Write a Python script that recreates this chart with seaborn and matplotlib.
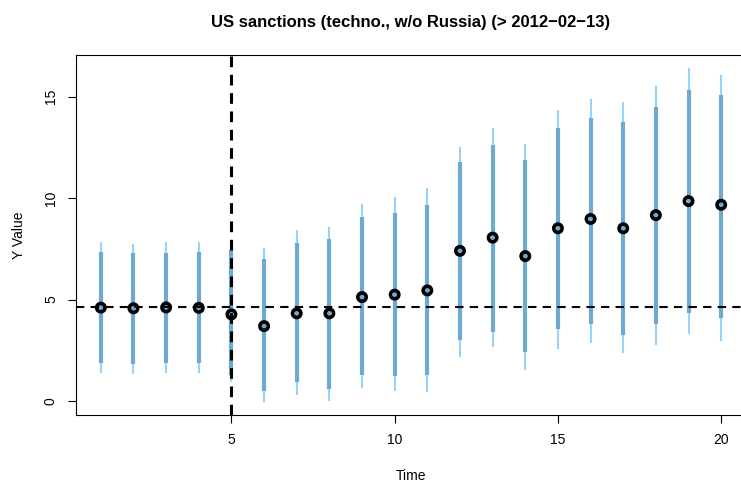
import numpy as np
import pandas as pd
import matplotlib
matplotlib.use("Agg")
import matplotlib.pyplot as plt
import seaborn as sns

# Event-study estimates with 80% (inner) and 95% (outer) intervals
time = list(range(1, 21))
estimate = [4.60, 4.57, 4.61, 4.59, 4.27, 3.69, 4.32, 4.32, 5.12, 5.24,
            5.45, 7.40, 8.05, 7.14, 8.51, 8.97, 8.51, 9.16, 9.85, 9.67]
inner_hi = [7.34, 7.27, 7.31, 7.34, 7.44, 6.98, 7.80, 7.96, 9.05, 9.28,
            9.65, 11.76, 12.63, 11.87, 13.47, 13.97, 13.76, 14.47, 15.32, 15.07]
inner_lo = [1.89, 1.84, 1.89, 1.86, 1.28, 0.51, 0.95, 0.58, 1.28, 1.23,
            1.28, 3.00, 3.41, 2.43, 3.55, 3.79, 3.25, 3.79, 4.35, 4.07]
outer_hi = [7.83, 7.75, 7.83, 7.83, 7.78, 7.55, 8.42, 8.59, 9.70, 10.03,
            10.48, 12.51, 13.43, 12.68, 14.35, 14.88, 14.75, 15.52, 16.39, 16.06]
outer_lo = [1.36, 1.33, 1.40, 1.36, 0.95, -0.03, 0.30, 0.00, 0.66, 0.51,
            0.46, 2.18, 2.68, 1.53, 2.55, 2.87, 2.38, 2.76, 3.28, 2.97]
treatment_time = 5
baseline = 4.61
x_ticks = [5, 10, 15, 20]
y_ticks = [0, 5, 10, 15]

df = pd.DataFrame({"Time": time, "Estimate": estimate,
                   "inner_lo": inner_lo, "inner_hi": inner_hi,
                   "outer_lo": outer_lo, "outer_hi": outer_hi})

sns.set_theme(style="white")
plt.rcParams["font.family"] = ["Liberation Sans", "DejaVu Sans"]

fig = plt.figure(figsize=(7.41, 4.84), dpi=100)
ax = fig.add_axes([76 / 741, 69 / 484, 670 / 741, 360 / 484])

ax.vlines(df["Time"], df["outer_lo"], df["outer_hi"], color="#9ad2f8", lw=1.5, zorder=2)
ax.vlines(df["Time"], df["inner_lo"], df["inner_hi"], color="#6ea9d0", lw=3.0, zorder=3)

ax.axhline(baseline, color="black", lw=1.5, ls=(0, (4, 3)), zorder=4)
ax.axvline(treatment_time, color="black", lw=2.2, ls=(0, (3.5, 2.5)), zorder=4)

sns.scatterplot(data=df, x="Time", y="Estimate", ax=ax, marker="o", s=36,
                facecolor="none", edgecolor="black", linewidth=2.6, zorder=5)

ax.set_xlim(0.24, 20.76)
ax.set_ylim(-0.69, 17.05)
ax.set_xticks(x_ticks)
ax.set_yticks(y_ticks)
ax.tick_params(axis="both", direction="out", length=6, width=0.8, color="black",
               labelsize=10, labelcolor="black", pad=7, bottom=True, left=True)
for lab in ax.get_yticklabels():
    lab.set_rotation(90)
    lab.set_va("center")
for sp in ax.spines.values():
    sp.set_color("black")
    sp.set_linewidth(0.8)

ax.set_xlabel("Time", fontsize=10, color="black", labelpad=16)
ax.set_ylabel("Y Value", fontsize=10, color="black", labelpad=13)
ax.set_title("US sanctions (techno., w/o Russia) (> 2012\u221202\u221213)",
             fontsize=12, fontweight="bold", color="black", pad=20)

fig.savefig("out.png", dpi=100)
